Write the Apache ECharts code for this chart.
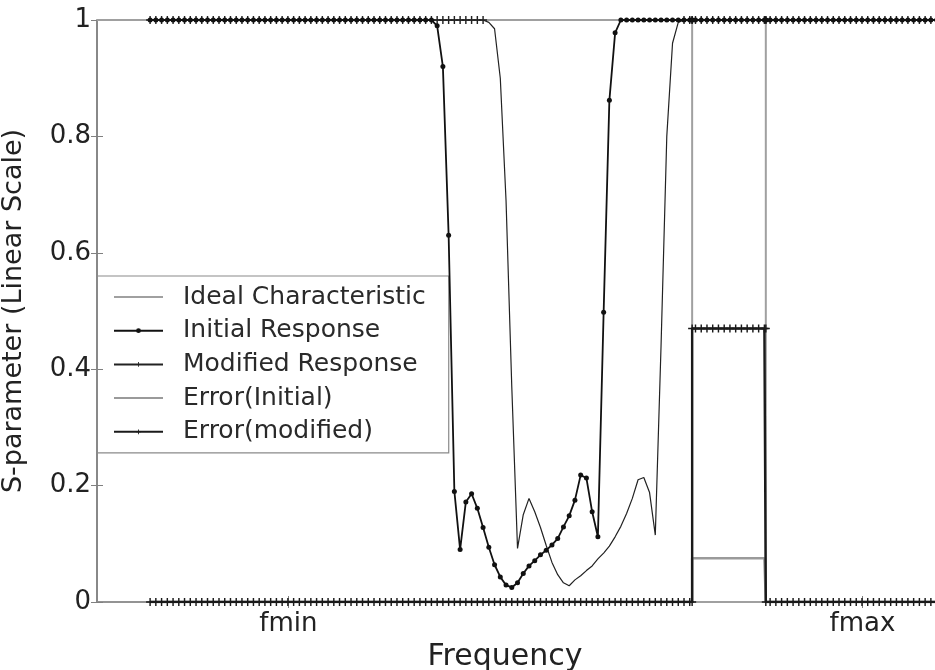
<!DOCTYPE html>
<html>
<head>
<meta charset="utf-8">
<script src="https://cdn.jsdelivr.net/npm/echarts@6/dist/echarts.min.js"></script>
<style>
html,body{margin:0;padding:0;background:#fff;}
#chart{width:935px;height:670px;}
</style>
</head>
<body>
<div id="chart"></div>
<script>
// Frequency samples (value axis units; fmin = 2, fmax = 8). Notch edges appear twice.
const freq = [
  0.555,0.615,0.675,0.735,0.795,0.855,0.915,0.975,1.035,1.095,
  1.155,1.215,1.275,1.335,1.395,1.455,1.515,1.575,1.635,1.695,
  1.755,1.815,1.875,1.935,1.995,2.055,2.115,2.175,2.235,2.295,
  2.355,2.415,2.475,2.535,2.595,2.655,2.715,2.775,2.835,2.895,
  2.955,3.015,3.075,3.135,3.195,3.255,3.315,3.375,3.435,3.495,
  3.555,3.615,3.675,3.735,3.795,3.855,3.915,3.975,4.035,4.095,
  4.155,4.215,4.275,4.335,4.395,4.455,4.515,4.575,4.635,4.695,
  4.755,4.815,4.875,4.935,4.995,5.055,5.115,5.175,5.235,5.295,
  5.355,5.415,5.475,5.535,5.595,5.655,5.715,5.775,5.835,5.895,
  5.955,6.015,6.075,6.135,6.195,6.22,6.22,6.255,6.315,6.375,6.435,6.495,
  6.555,6.615,6.675,6.735,6.795,6.855,6.915,6.975,6.99,6.99,7.035,7.095,
  7.155,7.215,7.275,7.335,7.395,7.455,7.515,7.575,7.635,7.695,
  7.755,7.815,7.875,7.935,7.995,8.055,8.115,8.175,8.235,8.295,
  8.355,8.415,8.475,8.535,8.595,8.655,8.715,8.775
];

const initialResponse = [
  1,1,1,1,1,1,1,1,1,1,
  1,1,1,1,1,1,1,1,1,1,
  1,1,1,1,1,1,1,1,1,1,
  1,1,1,1,1,1,1,1,1,1,
  1,1,1,1,1,1,1,1,1,1,
  0.99,0.92,0.63,0.19,0.09,0.172,0.186,0.161,0.128,0.094,
  0.064,0.043,0.029,0.025,0.033,0.049,0.062,0.071,0.081,0.089,
  0.098,0.109,0.129,0.148,0.175,0.218,0.213,0.155,0.112,0.498,
  0.862,0.978,1,1,1,1,1,1,1,1,
  1,1,1,1,1,1,1,1,1,1,1,1,
  1,1,1,1,1,1,1,1,1,1,1,1,
  1,1,1,1,1,1,1,1,1,1,
  1,1,1,1,1,1,1,1,1,1,
  1,1,1,1,1,1,1,1
];

const modifiedResponse = [
  1,1,1,1,1,1,1,1,1,1,
  1,1,1,1,1,1,1,1,1,1,
  1,1,1,1,1,1,1,1,1,1,
  1,1,1,1,1,1,1,1,1,1,
  1,1,1,1,1,1,1,1,1,1,
  1,1,1,1,1,1,1,1,1,0.996,
  0.985,0.9,0.69,0.37,0.092,0.15,0.178,0.155,0.128,0.097,
  0.068,0.047,0.033,0.028,0.038,0.045,0.054,0.062,0.074,0.084,
  0.096,0.112,0.13,0.152,0.178,0.21,0.214,0.188,0.115,0.44,
  0.8,0.96,0.996,1,1,1,1,1,1,1,1,1,
  1,1,1,1,1,1,1,1,1,1,1,1,
  1,1,1,1,1,1,1,1,1,1,
  1,1,1,1,1,1,1,1,1,1,
  1,1,1,1,1,1,1,1
];

const errorInitial = [
  0,0,0,0,0,0,0,0,0,0,
  0,0,0,0,0,0,0,0,0,0,
  0,0,0,0,0,0,0,0,0,0,
  0,0,0,0,0,0,0,0,0,0,
  0,0,0,0,0,0,0,0,0,0,
  0,0,0,0,0,0,0,0,0,0,
  0,0,0,0,0,0,0,0,0,0,
  0,0,0,0,0,0,0,0,0,0,
  0,0,0,0,0,0,0,0,0,0,
  0,0,0,0,0,0,0.075,0.075,0.075,0.075,0.075,0.075,
  0.075,0.075,0.075,0.075,0.075,0.075,0.075,0.075,0.075,0,0,0,
  0,0,0,0,0,0,0,0,0,0,
  0,0,0,0,0,0,0,0,0,0,
  0,0,0,0,0,0,0,0
];

const errorModified = [
  0,0,0,0,0,0,0,0,0,0,
  0,0,0,0,0,0,0,0,0,0,
  0,0,0,0,0,0,0,0,0,0,
  0,0,0,0,0,0,0,0,0,0,
  0,0,0,0,0,0,0,0,0,0,
  0,0,0,0,0,0,0,0,0,0,
  0,0,0,0,0,0,0,0,0,0,
  0,0,0,0,0,0,0,0,0,0,
  0,0,0,0,0,0,0,0,0,0,
  0,0,0,0,0,0,0.47,0.47,0.47,0.47,0.47,0.47,
  0.47,0.47,0.47,0.47,0.47,0.47,0.47,0.47,0.47,0,0,0,
  0,0,0,0,0,0,0,0,0,0,
  0,0,0,0,0,0,0,0,0,0,
  0,0,0,0,0,0,0,0
];

// Ideal characteristic (band-stop notch)
const idealFreq  = [0, 6.22, 6.22, 6.99, 6.99, 8.8];
const idealValue = [1, 1, 0, 0, 1, 1];

const seriesNames = ['Ideal Characteristic','Initial Response','Modified Response','Error(Initial)','Error(modified)'];
const xTickValues = [2, 8];
const xTickLabels = ['fmin', 'fmax'];
const yTickValues = [0, 0.2, 0.4, 0.6, 0.8, 1];

const FONT = 'DejaVu Sans';
const PLUS = 'path://M4.1,0H5.9V4.1H10V5.9H5.9V10H4.1V5.9H0V4.1H4.1Z';
const pair = (xs, ys) => xs.map((x, i) => [x, ys[i]]);
const hiddenIcon = {color: 'rgba(0,0,0,0)', borderWidth: 0, opacity: 0};

const chart = echarts.init(document.getElementById('chart'), null, {renderer: 'canvas'});
chart.setOption({
  animation: false,
  backgroundColor: '#ffffff',
  grid: {left: 97, top: 20, right: -4, bottom: 68, containLabel: false, outerBoundsMode: 'none'},
  legend: {
    orient: 'vertical', left: 97, top: 276,
    itemWidth: 49, itemHeight: 6, itemGap: 3.7,
    padding: [6, 23, 6, 16],
    borderColor: '#8a8a8a', borderWidth: 1.2, borderRadius: 0,
    backgroundColor: 'transparent',
    textStyle: {fontFamily: FONT, fontSize: 25, color: '#2a2a2a', lineHeight: 30, padding: [0, 0, 0, 15]},
    data: [
      {name: seriesNames[0], itemStyle: hiddenIcon},
      {name: seriesNames[1]},
      {name: seriesNames[2]},
      {name: seriesNames[3], itemStyle: hiddenIcon},
      {name: seriesNames[4]}
    ]
  },
  xAxis: [{
    type: 'value', min: 0, max: 8.8, position: 'bottom',
    name: 'Frequency', nameLocation: 'middle', nameGap: 40,
    nameTextStyle: {fontFamily: FONT, fontSize: 30, color: '#222', padding: [0, 26, 0, 0]},
    axisLine: {show: true, lineStyle: {color: '#808080', width: 1.5}},
    axisTick: {show: true, inside: true, length: 6, customValues: xTickValues, lineStyle: {color: '#808080'}},
    axisLabel: {show: true, margin: 9, fontFamily: FONT, fontSize: 26, color: '#222',
      customValues: xTickValues,
      formatter: v => { const i = xTickValues.indexOf(v); return i >= 0 ? xTickLabels[i] : ''; }},
    splitLine: {show: false}
  }, {
    type: 'value', min: 0, max: 8.8, position: 'top',
    axisLine: {show: true, lineStyle: {color: '#909090', width: 1.5}},
    axisTick: {show: true, inside: true, length: 6, customValues: xTickValues, lineStyle: {color: '#808080'}},
    axisLabel: {show: false},
    splitLine: {show: false}
  }],
  yAxis: [{
    type: 'value', min: 0, max: 1, interval: 0.2, position: 'left',
    name: 'S-parameter (Linear Scale)', nameLocation: 'middle', nameGap: 70, nameRotate: 90,
    nameTextStyle: {fontFamily: FONT, fontSize: 27, color: '#222'},
    axisLine: {show: true, lineStyle: {color: '#808080', width: 1.5}},
    axisTick: {show: true, inside: true, length: 6, lineStyle: {color: '#808080'}},
    axisLabel: {margin: 6, fontFamily: FONT, fontSize: 26, color: '#222',
      formatter: v => String(yTickValues.find(t => Math.abs(t - v) < 1e-9) ?? v)},
    splitLine: {show: false}
  }, {
    type: 'value', min: 0, max: 1, interval: 0.2, position: 'right',
    axisLine: {show: true, lineStyle: {color: '#808080', width: 1.5}},
    axisTick: {show: true, inside: true, length: 6, lineStyle: {color: '#808080'}},
    axisLabel: {show: false},
    splitLine: {show: false}
  }],
  series: [
    {
      name: seriesNames[0], type: 'line', data: pair(idealFreq, idealValue),
      symbol: 'none', lineStyle: {color: '#a0a0a0', width: 2}, itemStyle: {color: '#a0a0a0'}, z: 1
    },
    {
      name: seriesNames[3], type: 'line', data: pair(freq, errorInitial),
      symbol: 'none', lineStyle: {color: '#9a9a9a', width: 2.5}, itemStyle: {color: '#9a9a9a'}, z: 2
    },
    {
      name: seriesNames[1], type: 'line', data: pair(freq, initialResponse),
      symbol: 'circle', symbolSize: 5, showSymbol: true,
      lineStyle: {color: '#111', width: 1.8}, itemStyle: {color: '#111'}, z: 4
    },
    {
      name: seriesNames[2], type: 'line', data: pair(freq, modifiedResponse),
      symbol: PLUS, showSymbol: true,
      symbolSize: v => (v[1] >= 0.999 ? 8 : 0),
      lineStyle: {color: '#222', width: 1.2}, itemStyle: {color: '#222'}, z: 3
    },
    {
      name: seriesNames[4], type: 'line', data: pair(freq, errorModified),
      symbol: PLUS, symbolSize: 8, showSymbol: true,
      lineStyle: {color: '#1a1a1a', width: 2.4}, itemStyle: {color: '#1a1a1a'}, z: 5
    }
  ]
});
</script>
</body>
</html>
